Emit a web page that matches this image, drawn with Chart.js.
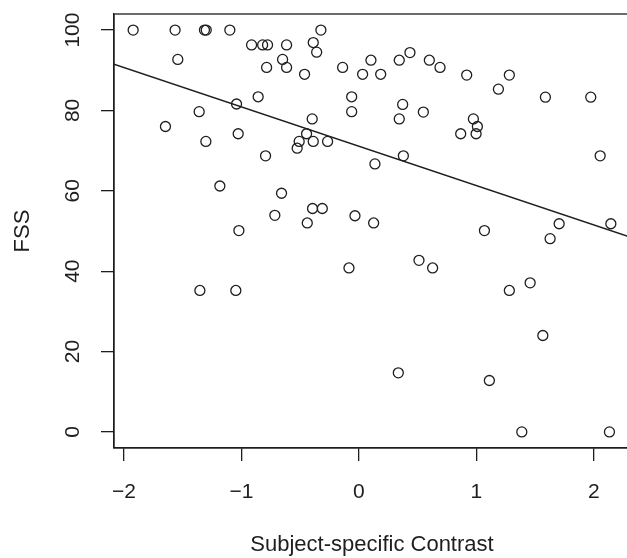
<!DOCTYPE html>
<html>
<head>
<meta charset="utf-8">
<script src="https://cdn.jsdelivr.net/npm/chart.js@4/dist/chart.umd.min.js"></script>
<style>
  html, body { margin: 0; padding: 0; background: #fff; overflow: hidden; }
</style>
</head>
<body>
<canvas id="fss-plot" width="640" height="558"></canvas>
<script>
"use strict";

// Subject-specific contrast (x) vs FSS (y)
var contrast = [
  -1.922, -1.565, -1.315, -1.300, -1.099, -0.324, -0.914, -0.820, -0.778, -0.616,
  -0.389, -0.360,  0.434, -1.542, -0.650,  0.102,  0.343,  0.599, -0.786, -0.616,
  -0.139,  0.690, -0.463,  0.031,  0.185,  0.917,  1.280,  1.187, -0.858, -0.062,
   1.587,  1.973, -1.042,  0.372, -1.360, -0.062,  0.548, -0.398,  0.343,  0.974,
  -1.647,  1.008, -1.028, -0.446,  0.866,  0.997, -1.303, -0.509, -0.389, -0.267,
  -0.526, -0.795,  0.378,  2.053,  0.136, -1.184, -0.659, -0.395, -0.312, -0.716,
  -0.034, -0.440,  0.125,  1.704,  2.144, -1.022,  1.068,  1.627,  0.511, -0.085,
   0.627,  1.457, -1.354, -1.048,  1.280,  1.565,  0.335,  1.110,  1.386,  2.132
];
var fss = [
  100, 100, 100, 100, 100, 100, 96.3, 96.3, 96.3, 96.3,
  96.9, 94.5, 94.4, 92.7, 92.7, 92.5, 92.5, 92.5, 90.7, 90.7,
  90.7, 90.7, 89.0, 89.0, 89.0, 88.8, 88.8, 85.3, 83.4, 83.4,
  83.3, 83.3, 81.6, 81.5, 79.7, 79.7, 79.6, 77.9, 77.9, 77.9,
  76.0, 76.0, 74.2, 74.2, 74.2, 74.2, 72.3, 72.3, 72.3, 72.3,
  70.6, 68.7, 68.7, 68.7, 66.7, 61.2, 59.4, 55.6, 55.6, 53.9,
  53.8, 52.0, 52.0, 51.8, 51.8, 50.1, 50.1, 48.1, 42.7, 40.8,
  40.8, 37.1, 35.2, 35.2, 35.2, 24.0, 14.7, 12.8, 0, 0
];

// fitted line, end points at the plot edges
var fitX = [-2.085, 2.307];
var fitY = [91.5, 48.5];

var xTicks = [-2, -1, 0, 1, 2];
var yTicks = [0, 20, 40, 60, 80, 100];
var xRange = [-2.085, 2.307];
var yRange = [-4, 104];

var points = contrast.map(function (v, i) { return { x: v, y: fss[i] }; });
var fitLine = fitX.map(function (v, i) { return { x: v, y: fitY[i] }; });

var ink = '#1e1e1e';
var fontFamily = '"Liberation Sans", Arial, Helvetica, sans-serif';

// R style box around the plot region
var boxPlugin = {
  id: 'box',
  beforeDatasetsDraw: function (chart) {
    var a = chart.chartArea, ctx = chart.ctx;
    ctx.save();
    ctx.strokeStyle = ink;
    ctx.lineWidth = 1.3;
    ctx.strokeRect(a.left, a.top, a.right - a.left, a.bottom - a.top);
    ctx.restore();
  }
};

function fixedTicks(values) {
  return function (scale) {
    scale.ticks = values.map(function (v) { return { value: v }; });
  };
}

function minusLabel(v) {
  return v < 0 ? '\u2212' + Math.abs(v) : String(v);
}

var ctx = document.getElementById('fss-plot').getContext('2d');
var chart = new Chart(ctx, {
  type: 'scatter',
  data: {
    datasets: [{
      data: points,
      showLine: false,
      pointStyle: 'circle',
      pointRadius: 5,
      pointHoverRadius: 5,
      pointBorderWidth: 1.3,
      pointBackgroundColor: 'rgba(0,0,0,0)',
      pointBorderColor: ink
    }, {
      type: 'line',
      data: fitLine,
      borderColor: ink,
      borderWidth: 1.4,
      pointRadius: 0,
      fill: false
    }]
  },
  options: {
    responsive: false,
    animation: false,
    layout: { padding: { left: 0, top: 14, right: 10, bottom: 0 } },
    plugins: {
      legend: { display: false },
      tooltip: { enabled: false }
    },
    scales: {
      x: {
        type: 'linear',
        min: xRange[0],
        max: xRange[1],
        afterBuildTicks: fixedTicks(xTicks),
        afterFit: function (scale) {
          scale.height = 110;
          scale.paddingLeft = 0;
          scale.paddingRight = 0;
        },
        grid: { drawOnChartArea: false, drawTicks: true, tickLength: 13, color: ink, lineWidth: 1.3 },
        border: { display: true, color: ink, width: 1.3 },
        ticks: {
          color: ink,
          font: { family: fontFamily, size: 21 },
          padding: 19,
          maxRotation: 0,
          callback: minusLabel
        },
        title: {
          display: true,
          text: 'Subject-specific Contrast',
          color: ink,
          font: { family: fontFamily, size: 22 },
          padding: { top: 0, bottom: 0 }
        }
      },
      y: {
        type: 'linear',
        min: yRange[0],
        max: yRange[1],
        afterBuildTicks: fixedTicks(yTicks),
        afterFit: function (scale) {
          scale.width = 114;
          scale.paddingTop = 0;
          scale.paddingBottom = 0;
        },
        grid: { drawOnChartArea: false, drawTicks: true, tickLength: 13, color: ink, lineWidth: 1.3 },
        border: { display: true, color: ink, width: 1.3 },
        ticks: {
          color: ink,
          font: { family: fontFamily, size: 21 },
          padding: 10,
          minRotation: 90,
          maxRotation: 90,
          crossAlign: 'center'
        },
        title: {
          display: true,
          text: 'FSS',
          color: ink,
          font: { family: fontFamily, size: 22 },
          padding: { top: 10, bottom: 0 }
        }
      }
    }
  },
  plugins: [boxPlugin]
});
</script>
</body>
</html>
